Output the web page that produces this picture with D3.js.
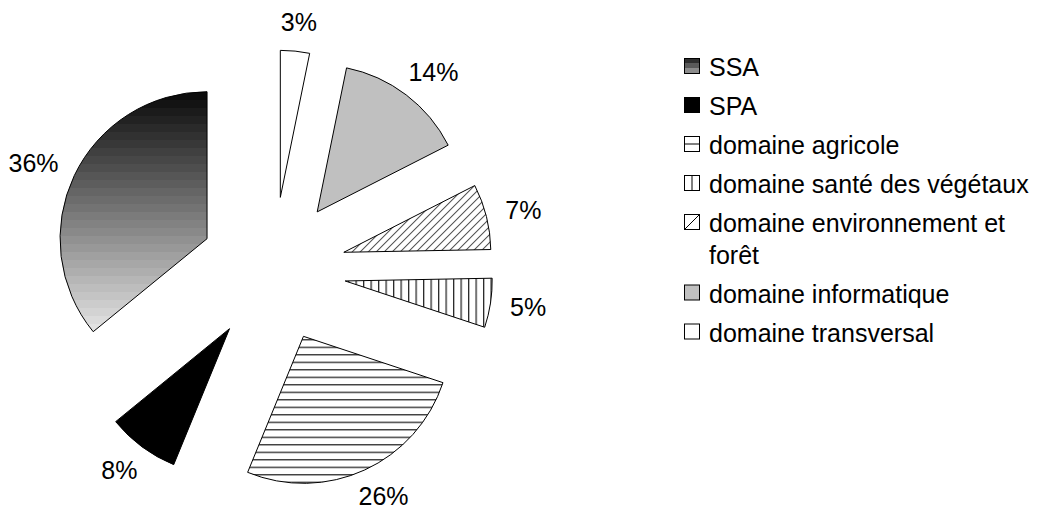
<!DOCTYPE html>
<html>
<head>
<meta charset="utf-8">
<script src="https://cdn.jsdelivr.net/npm/d3@7"></script>
<style>
  html, body { margin: 0; padding: 0; background: #fff; }
  svg { display: block; }
  text { font-family: "Liberation Sans", Arial, sans-serif; fill: #000; }
</style>
</head>
<body>
<svg id="chart" width="1041" height="511"></svg>
<script>
// ---- data ----
const categories = ["SSA", "SPA", "domaine agricole", "domaine santé des végétaux",
  "domaine environnement et forêt", "domaine informatique", "domaine transversal"];
const values = [35.9, 7.9, 26.1, 5.4, 7.2, 14.3, 3.2];
const fills = ["url(#gradSSA)", "#000000", "url(#patH)", "url(#patV)", "url(#patD)", "#c0c0c0", "#ffffff"];
const legendFills = ["url(#gradLeg)", "#000000", "#ffffff", "#ffffff", "#ffffff", "#c0c0c0", "#ffffff"];

// ---- layout ----
const W = 1041, H = 511;
const cx = 273, cy = 270, radius = 147, explode = 73, labelDist = 240;
const fontSize = 25;

const svg = d3.select("#chart");
const defs = svg.append("defs");

// banded vertical gradient (SSA)
const g1 = defs.append("linearGradient").attr("id", "gradSSA")
  .attr("x1", 0).attr("y1", 0).attr("x2", 0).attr("y2", 1);
const bands = 30;
const col = d3.interpolateRgb("#0c0c0c", "#e2e2e2");
for (let i = 0; i < bands; i++) {
  const c = col(i / (bands - 1));
  g1.append("stop").attr("offset", i / bands).attr("stop-color", c);
  g1.append("stop").attr("offset", (i + 1) / bands).attr("stop-color", c);
}
const g2 = defs.append("linearGradient").attr("id", "gradLeg")
  .attr("x1", 0).attr("y1", 0).attr("x2", 0).attr("y2", 1);
[["#2e2e2e", 0, 0.33], ["#5a5a5a", 0.33, 0.66], ["#8c8c8c", 0.66, 1]].forEach(([c, a, b]) => {
  g2.append("stop").attr("offset", a).attr("stop-color", c);
  g2.append("stop").attr("offset", b).attr("stop-color", c);
});

// horizontal lines pattern
const pH = defs.append("pattern").attr("id", "patH").attr("patternUnits", "userSpaceOnUse")
  .attr("width", 8).attr("height", 7.5);
pH.append("rect").attr("width", 8).attr("height", 7.5).attr("fill", "#fff");
pH.append("line").attr("x1", 0).attr("x2", 8).attr("y1", 3.5).attr("y2", 3.5)
  .attr("stroke", "#000").attr("stroke-width", 1.1);
// vertical lines pattern
const pV = defs.append("pattern").attr("id", "patV").attr("patternUnits", "userSpaceOnUse")
  .attr("width", 7.5).attr("height", 8);
pV.append("rect").attr("width", 7.5).attr("height", 8).attr("fill", "#fff");
pV.append("line").attr("y1", 0).attr("y2", 8).attr("x1", 3.5).attr("x2", 3.5)
  .attr("stroke", "#000").attr("stroke-width", 1.1);
// diagonal "/" pattern
const pD = defs.append("pattern").attr("id", "patD").attr("patternUnits", "userSpaceOnUse")
  .attr("width", 8).attr("height", 8);
pD.append("rect").attr("width", 8).attr("height", 8).attr("fill", "#fff");
pD.append("path").attr("d", "M-1,9 L9,-1 M-1,1 L1,-1 M7,9 L9,7")
  .attr("stroke", "#000").attr("stroke-width", 1);

// ---- pie ----
const total = d3.sum(values);
const pie = d3.pie().sort(null).startAngle(0).endAngle(-2 * Math.PI);
const arcs = pie(values);
const arc = d3.arc().innerRadius(0).outerRadius(radius);

const gPie = svg.append("g").attr("transform", `translate(${cx},${cy})`);
arcs.forEach((a, i) => {
  const mid = (a.startAngle + a.endAngle) / 2;
  const dx = explode * Math.sin(mid), dy = -explode * Math.cos(mid);
  gPie.append("path")
    .attr("d", arc(a))
    .attr("transform", `translate(${dx},${dy})`)
    .attr("fill", fills[i])
    .attr("stroke", "#000")
    .attr("stroke-width", 1)
    .attr("stroke-linejoin", "miter");
});

// labels
arcs.forEach((a, i) => {
  const mid = (a.startAngle + a.endAngle) / 2;
  const s = Math.sin(mid), c = -Math.cos(mid);
  const t = gPie.append("text")
    .attr("font-size", fontSize)
    .attr("text-anchor", "middle")
    .text(Math.round(values[i] / total * 100) + "%");
  const w = t.node().getComputedTextLength();
  const h = 18;
  const x = labelDist * s + (w / 2) * s;
  const y = labelDist * c + (h / 2) * c;
  t.attr("x", x).attr("y", y + 9);
});

// ---- legend ----
const legX = 684, textX = 709, legY0 = 76, rowStep = 39, lineStep = 31.5, maxW = 326;
const gLeg = svg.append("g");
let extra = 0;
categories.forEach((name, i) => {
  const base = legY0 + i * rowStep + extra;
  const sq = gLeg.append("g").attr("transform", `translate(${legX + 0.5},${base - 17.5})`);
  sq.append("rect").attr("width", 15).attr("height", 15)
    .attr("fill", legendFills[i]).attr("stroke", "#000").attr("stroke-width", 1);
  if (i === 2) sq.append("line").attr("x1", 0).attr("x2", 15).attr("y1", 7.5).attr("y2", 7.5).attr("stroke", "#000");
  if (i === 3) sq.append("line").attr("y1", 0).attr("y2", 15).attr("x1", 7.5).attr("x2", 7.5).attr("stroke", "#000");
  if (i === 4) sq.append("line").attr("x1", 0).attr("y1", 15).attr("x2", 15).attr("y2", 0).attr("stroke", "#000");

  const t = gLeg.append("text").attr("x", textX).attr("y", base).attr("font-size", fontSize);
  const words = name.split(" ");
  let line = [], tspan = t.append("tspan").attr("x", textX).attr("y", base), n = 0;
  words.forEach(wd => {
    line.push(wd);
    tspan.text(line.join(" "));
    if (tspan.node().getComputedTextLength() > maxW && line.length > 1) {
      line.pop();
      tspan.text(line.join(" "));
      line = [wd];
      n++;
      tspan = t.append("tspan").attr("x", textX).attr("y", base + n * lineStep).text(wd);
    }
  });
  extra += n * lineStep;
});
</script>
</body>
</html>
